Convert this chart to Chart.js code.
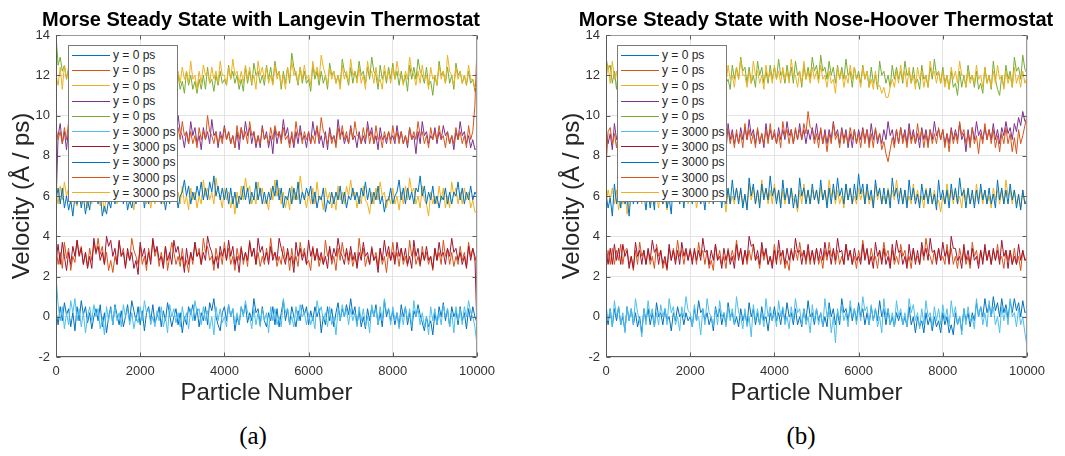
<!DOCTYPE html>
<html><head><meta charset="utf-8">
<script src="https://cdn.jsdelivr.net/npm/chart.js@4.4.1/dist/chart.umd.min.js"></script>
<style>
html,body{margin:0;padding:0;background:#fff;}
body{width:1065px;height:456px;position:relative;overflow:hidden;font-family:"Liberation Sans",Arial,sans-serif;}
canvas{position:absolute;top:0;}
.title{position:absolute;top:7px;font-family:"Liberation Sans",Arial,sans-serif;font-weight:bold;font-size:20px;line-height:24px;color:#000;white-space:nowrap;transform:translateX(-50%);}
.legend{position:absolute;background:#fff;border:1px solid #7a7a7a;box-sizing:border-box;padding-top:1.5px;}
.legend .row{height:15.3px;display:flex;align-items:center;font-size:12px;color:#262626;white-space:nowrap;}
.legend .swatch{width:38px;height:0;border-top:1px solid;margin-left:3px;margin-right:3px;}
.caption{position:absolute;top:421px;font-family:"Liberation Serif","Times New Roman",serif;font-size:25px;line-height:30px;color:#000;transform:translateX(-50%);}
</style></head>
<body>
<canvas id="cA" width="540" height="410" style="left:0px"></canvas>
<canvas id="cB" width="515" height="410" style="left:550px"></canvas>
<div class="title" style="left:261px">Morse Steady State with Langevin Thermostat</div>
<div class="title" style="left:816px">Morse Steady State with Nose-Hoover Thermostat</div>
<div class="legend" id="legA" style="left:68px;top:45px;width:110px;height:157px"></div>
<div class="legend" id="legB" style="left:617px;top:45px;width:110px;height:157px"></div>
<div class="caption" style="left:253px">(a)</div>
<div class="caption" style="left:801px">(b)</div>
<script>
// ---- data ----
const particleNumbers = [
0,50,100,150,200,250,300,350,400,450,500,550,600,650,700,750,800,850,900,950,
1000,1050,1100,1150,1200,1250,1300,1350,1400,1450,1500,1550,1600,1650,1700,1750,1800,1850,1900,1950,
2000,2050,2100,2150,2200,2250,2300,2350,2400,2450,2500,2550,2600,2650,2700,2750,2800,2850,2900,2950,
3000,3050,3100,3150,3200,3250,3300,3350,3400,3450,3500,3550,3600,3650,3700,3750,3800,3850,3900,3950,
4000,4050,4100,4150,4200,4250,4300,4350,4400,4450,4500,4550,4600,4650,4700,4750,4800,4850,4900,4950,
5000,5050,5100,5150,5200,5250,5300,5350,5400,5450,5500,5550,5600,5650,5700,5750,5800,5850,5900,5950,
6000,6050,6100,6150,6200,6250,6300,6350,6400,6450,6500,6550,6600,6650,6700,6750,6800,6850,6900,6950,
7000,7050,7100,7150,7200,7250,7300,7350,7400,7450,7500,7550,7600,7650,7700,7750,7800,7850,7900,7950,
8000,8050,8100,8150,8200,8250,8300,8350,8400,8450,8500,8550,8600,8650,8700,8750,8800,8850,8900,8950,
9000,9050,9100,9150,9200,9250,9300,9350,9400,9450,9500,9550,9600,9650,9700,9750,9800,9850,9900,9950,
10000];

const xTicks = [0,2000,4000,6000,8000,10000];
const yTicks = [-2,0,2,4,6,8,10,12,14];

const seriesLabels = ["y = 0 ps","y = 0 ps","y = 0 ps","y = 0 ps","y = 0 ps",
  "y = 3000 ps","y = 3000 ps","y = 3000 ps","y = 3000 ps","y = 3000 ps"];

// ---- Langevin (a) ----
const langA_0ps_s1 = [
0.3,-0.4,0.5,-0.2,0.7,0.1,0.4,-0.5,0.2,-0.7,0.5,-0.2,0.8,0.1,0.5,-0.3,0.2,-0.6,0.0,0.4,
-0.2,0.6,-0.5,0.2,-0.8,0.0,0.5,-0.4,0.6,0.1,-0.4,0.3,-0.5,0.0,0.6,-0.2,0.8,0.3,-0.2,0.5,
-0.4,0.3,-0.7,0.2,0.5,-0.2,0.6,-0.3,0.0,0.5,-0.5,0.3,-0.2,0.7,0.1,-0.5,0.0,0.4,-0.4,0.2,
-0.8,0.0,-0.4,0.5,0.1,0.6,-0.2,0.4,-0.5,0.2,-0.2,0.5,-0.4,0.7,0.3,0.9,0.0,-0.4,-0.7,0.2,
0.5,-0.2,0.6,0.0,0.4,-0.7,0.0,-0.4,0.5,0.1,0.6,-0.3,0.2,-0.2,0.9,0.2,0.4,-0.4,0.5,-0.2,
-0.5,0.2,-0.2,0.5,-0.4,0.4,-0.5,0.2,0.8,-0.2,0.4,-0.4,0.5,0.0,-0.5,0.3,-0.2,0.6,0.1,0.5,
-0.4,0.3,-0.2,0.5,0.0,0.4,-0.8,0.0,-0.4,0.5,-0.2,0.4,-0.5,0.2,0.7,-0.2,0.4,0.0,0.6,0.1,
0.9,0.1,0.5,-0.4,0.3,-0.5,0.0,-0.6,0.4,-0.2,0.5,0.0,0.6,-0.4,0.2,-0.5,0.8,0.0,0.4,-0.2,
0.3,-0.4,0.2,-0.5,0.6,0.0,0.5,-0.4,0.2,-0.7,0.3,0.0,0.6,0.1,-0.3,-0.7,0.0,-0.5,-0.2,-0.9,
0.2,-0.4,0.5,0.0,0.7,-0.2,0.4,-0.5,0.5,0.0,0.3,-0.4,0.5,-0.2,0.2,-0.6,0.4,-0.2,0.5,0.0,
-0.3];
const langA_0ps_s2 = [
3.5,2.6,3.2,2.4,3.7,2.9,3.4,2.3,3.0,2.7,3.8,3.1,3.5,2.6,3.2,2.5,3.4,2.8,3.7,3.1,
3.9,3.1,3.5,2.6,3.2,2.3,2.8,2.2,3.0,2.6,3.7,3.0,3.4,2.5,3.2,2.8,3.9,3.3,3.0,2.6,
3.5,2.6,3.0,2.3,3.4,2.8,3.8,3.0,3.4,2.5,3.2,2.6,3.5,2.3,3.0,3.7,3.2,2.6,3.0,2.5,
3.4,2.5,2.8,2.2,3.2,2.6,3.7,3.0,3.4,2.6,3.9,3.2,3.5,2.8,3.0,2.3,3.4,2.8,3.2,2.6,
3.7,2.8,3.4,2.6,3.0,2.3,3.4,2.8,3.5,2.6,3.2,2.5,3.8,3.0,3.4,2.6,3.2,2.5,3.0,2.6,
3.4,2.8,3.9,3.0,3.2,2.5,3.0,2.6,3.5,2.8,3.2,2.3,3.4,2.6,3.0,2.5,3.7,3.0,3.4,2.6,
2.8,2.3,3.5,2.8,3.2,2.5,3.0,2.6,3.8,3.0,3.4,2.6,3.0,2.3,3.4,2.8,3.7,3.0,3.2,2.6,
3.2,2.5,3.0,2.6,3.9,3.0,3.4,2.5,3.0,2.6,3.5,2.8,3.2,2.5,3.4,2.6,3.0,2.2,3.2,2.8,
3.7,2.8,3.2,2.5,3.4,2.6,3.0,2.5,3.8,3.0,3.4,2.6,3.0,2.5,3.5,2.8,3.2,2.6,3.0,2.3,
3.4,2.8,3.2,2.6,3.8,3.0,3.4,2.6,3.2,2.5,3.0,2.6,3.5,2.8,3.2,2.5,3.7,3.0,3.4,2.8,
3.1];
const langA_0ps_s3 = [
6.2,5.6,6.5,5.8,6.7,6.0,6.4,5.6,6.5,5.8,5.5,6.2,5.6,6.4,6.0,5.4,6.2,5.6,6.8,6.0,
6.4,5.5,6.0,5.2,6.2,5.6,6.5,6.0,6.4,5.6,6.9,6.2,6.5,5.8,6.4,5.6,6.0,5.3,6.2,5.8,
6.7,5.8,6.4,5.6,6.2,5.4,6.0,5.6,6.5,5.8,6.2,5.6,6.4,5.8,7.0,6.4,6.7,5.8,6.2,5.6,
6.5,5.6,6.0,5.3,6.4,5.8,6.2,5.4,6.0,5.6,6.8,6.0,6.4,5.8,6.2,5.6,6.9,6.2,6.0,5.4,
6.4,5.8,6.2,5.4,6.0,5.1,6.2,5.6,6.5,5.8,6.9,6.2,6.5,5.6,6.0,5.6,6.7,6.0,6.4,5.6,
5.8,5.3,6.4,5.8,6.8,6.0,6.4,5.6,6.2,5.4,6.0,5.3,6.5,5.8,6.2,5.8,7.0,6.2,6.0,5.4,
6.2,5.6,6.4,5.6,6.7,5.8,6.0,5.3,6.4,5.8,6.2,5.4,6.0,5.3,6.5,5.8,6.2,5.6,6.5,6.0,
6.8,6.0,6.2,5.4,6.0,5.6,6.5,5.8,5.6,5.1,6.2,5.6,6.4,5.8,6.7,6.0,6.2,5.4,6.0,5.6,
6.4,5.6,6.0,5.3,6.2,5.6,6.5,5.8,6.9,6.2,6.4,5.6,6.0,5.4,6.5,5.8,5.6,5.0,6.2,5.6,
6.0,5.6,6.5,5.8,6.4,5.4,6.0,5.4,6.7,6.0,6.4,5.6,6.2,5.6,6.4,5.8,6.2,5.4,5.8,5.2,
5.2];
const langA_0ps_s4 = [
5.5,9.0,9.6,8.6,9.2,8.3,9.4,8.6,9.2,8.8,9.7,8.8,9.2,8.4,9.4,8.8,9.5,8.6,9.0,8.2,
9.5,8.8,9.4,8.6,9.8,9.0,9.2,8.3,9.0,8.6,9.5,8.8,9.9,9.2,9.4,8.6,9.0,8.4,9.4,8.8,
9.2,8.6,9.7,9.0,9.4,8.2,9.0,8.4,9.5,9.0,9.2,8.6,9.0,8.3,9.2,8.1,9.4,8.8,10.0,9.2,
9.0,8.4,9.2,8.6,9.7,9.0,9.4,8.6,9.0,8.3,9.4,8.8,9.2,8.6,9.8,9.0,9.2,8.4,9.2,8.8,
9.5,8.8,9.2,8.6,9.0,8.4,9.2,8.3,9.4,8.8,9.7,9.0,9.4,8.6,9.2,8.4,9.0,8.4,9.5,8.8,
9.2,8.4,9.0,8.1,9.4,8.6,9.2,8.8,9.8,9.0,9.4,8.6,9.0,8.4,9.2,8.6,9.5,8.8,9.0,8.4,
9.2,8.6,9.7,9.0,9.4,8.6,9.0,8.4,9.2,8.3,9.4,8.8,9.0,8.6,9.8,9.0,9.2,8.6,9.0,8.6,
9.5,8.8,9.0,8.4,9.2,8.6,9.0,8.6,9.7,9.0,9.4,8.6,9.0,8.3,9.4,8.8,9.0,8.6,9.2,8.8,
9.0,8.6,9.5,8.8,9.2,8.6,9.0,8.4,9.4,8.8,9.0,8.1,9.2,8.6,9.7,9.0,9.2,8.6,9.0,8.8,
9.4,8.6,9.2,8.8,9.5,9.0,9.2,8.6,9.0,8.3,9.2,8.8,9.7,9.0,9.2,8.6,9.0,8.4,8.8,8.3,
8.4];
const langA_0ps_s5 = [
14.0,12.5,12.9,12.2,12.5,11.8,12.4,11.6,12.3,11.8,12.5,11.6,12.2,11.5,12.4,11.8,12.2,11.5,12.7,12.0,
12.4,11.5,12.0,11.3,12.5,11.8,12.9,12.2,12.4,11.6,12.4,11.6,12.0,11.2,12.2,11.6,12.6,12.0,12.2,11.5,
12.8,12.2,12.5,11.6,12.0,11.5,12.5,11.8,12.2,11.6,13.0,12.4,12.5,11.6,11.8,11.3,12.4,11.6,12.0,11.3,
11.7,11.1,12.2,11.5,12.0,11.3,11.7,11.1,11.8,11.3,12.0,11.3,12.4,11.6,11.8,11.2,12.0,11.5,12.2,11.6,
11.8,11.5,12.5,11.8,12.2,11.6,12.0,11.3,11.8,11.2,12.4,11.6,12.2,11.5,12.6,12.0,12.2,11.6,12.0,11.5,
12.5,11.8,12.4,11.6,12.7,12.0,12.2,11.3,12.2,11.6,12.4,11.6,13.1,12.4,12.0,11.5,12.4,11.6,12.2,11.6,
11.8,11.2,12.5,11.8,12.2,11.5,12.2,11.6,12.0,11.3,12.6,12.0,12.2,11.6,12.0,11.5,12.8,12.2,12.0,11.5,
12.4,11.6,12.2,11.8,12.7,12.0,12.2,11.6,12.4,11.8,12.9,12.2,12.0,11.3,12.5,11.8,12.2,11.6,12.4,11.8,
12.6,11.8,12.2,11.5,12.2,11.6,12.0,11.2,12.5,11.8,12.4,11.8,12.8,12.2,12.0,11.6,12.4,11.5,11.7,11.0,
12.0,11.5,12.7,12.0,12.2,11.6,12.4,11.6,12.0,11.3,12.6,12.0,12.2,11.6,12.0,11.5,12.2,11.6,11.8,11.2,
12.0];
const langA_3000ps_s1 = [
2.0,0.6,-0.2,0.5,-0.6,0.2,-0.4,0.8,0.2,0.9,-0.2,0.4,-0.5,0.2,-0.8,0.0,0.5,-0.2,0.6,0.0,
0.4,-0.6,0.0,-0.9,0.5,-0.2,0.4,-0.4,0.5,-0.2,0.2,-0.5,0.6,0.0,0.4,-0.4,0.2,-0.6,0.0,-0.3,
0.5,-0.2,0.8,0.2,0.4,-0.4,0.0,-0.5,0.3,-0.2,0.5,-0.5,0.0,-0.8,0.6,0.0,0.4,-0.3,0.2,-0.5,
0.5,-0.2,0.2,-0.6,0.4,-0.2,0.8,0.2,0.4,-0.4,0.5,-0.2,0.3,-0.6,0.0,-0.9,0.5,-0.2,0.4,-0.3,
0.0,-0.5,0.6,0.0,0.4,-0.4,0.2,-0.4,0.5,0.0,0.8,0.2,0.0,-0.6,0.4,-0.4,0.2,-0.5,0.4,-0.2,
0.2,-0.8,0.5,-0.2,0.4,-0.4,0.0,-0.5,0.9,0.2,0.4,-0.4,0.0,-0.5,0.5,-0.2,0.6,0.0,0.2,-0.4,
0.2,-0.4,0.0,-0.6,0.8,0.2,0.5,-0.2,0.2,-0.5,0.5,-0.4,0.0,-0.9,0.4,-0.2,0.6,0.0,0.4,-0.4,
0.4,-0.2,0.2,-0.5,0.5,-0.2,0.4,-0.5,0.0,-0.8,0.6,0.0,0.4,-0.4,0.5,-0.2,0.9,0.2,0.4,-0.4,
0.5,-0.2,0.2,-0.6,0.2,-0.4,0.5,-0.2,0.4,-0.5,0.8,0.0,0.4,-0.4,0.2,-0.5,0.0,-0.9,0.5,-0.2,
0.4,-0.4,0.2,-0.4,0.6,0.0,0.4,-0.5,0.2,-0.8,0.5,-0.2,0.4,-0.4,0.5,0.0,0.8,0.2,0.0,-0.5,
-1.4];
const langA_3000ps_s2 = [
2.8,3.6,2.6,3.7,3.0,2.3,3.2,2.6,3.5,3.0,3.8,3.0,3.4,2.6,3.2,2.4,3.0,2.4,3.9,3.2,
3.5,2.8,3.2,2.6,4.0,3.5,3.8,3.0,3.4,2.6,3.8,3.0,3.2,2.4,3.4,2.8,3.2,2.4,2.8,2.1,
3.7,3.0,3.4,2.6,3.2,2.6,3.9,3.2,3.5,2.8,3.0,2.4,3.5,2.8,3.2,2.6,3.8,3.2,3.5,2.8,
3.0,2.2,3.4,2.6,3.2,2.8,3.7,3.0,3.2,2.6,3.2,2.8,4.0,3.5,3.2,2.6,3.0,2.4,3.5,3.0,
3.4,2.8,3.8,3.0,3.5,2.6,3.0,2.2,3.4,2.8,3.2,2.8,3.7,3.0,3.4,2.6,3.9,3.2,3.5,2.8,
3.2,2.6,3.5,2.8,3.2,2.8,3.9,3.4,3.0,2.6,3.4,2.8,3.0,2.2,3.7,3.0,3.4,2.8,3.2,2.6,
3.8,3.0,3.4,2.8,3.4,2.8,3.2,2.6,3.0,2.4,3.5,2.8,3.4,3.0,3.9,3.2,3.0,2.6,3.4,2.8,
3.5,2.8,3.2,2.4,3.2,2.8,3.7,3.0,3.2,2.6,3.4,2.8,3.0,2.2,3.4,2.8,3.8,3.0,3.5,2.8,
3.2,2.6,3.7,3.0,3.4,2.8,3.4,2.6,3.0,2.4,3.8,3.0,3.4,2.6,3.2,2.8,3.5,2.8,3.0,2.4,
3.4,2.8,3.7,3.0,3.2,2.6,3.4,3.0,3.9,3.2,3.4,2.8,3.2,2.6,3.0,2.4,3.5,2.8,3.4,3.0,
-0.7];
const langA_3000ps_s3 = [
5.8,6.4,5.6,6.4,5.4,6.0,5.3,5.8,5.0,6.0,5.6,6.2,5.4,6.0,5.1,5.8,5.3,6.4,5.8,6.2,
5.6,6.2,5.0,5.5,5.1,5.8,5.4,6.2,5.6,6.2,5.8,6.5,5.6,6.2,5.3,5.8,5.4,6.0,5.6,6.2,
5.8,6.4,5.4,6.2,5.6,6.4,5.8,6.7,5.8,6.4,5.6,6.2,5.3,6.0,5.6,6.5,5.8,6.2,5.4,6.0,
6.2,6.8,6.0,6.5,5.6,6.2,5.8,6.5,6.0,6.7,5.8,6.4,5.8,6.7,6.2,7.0,6.0,6.5,5.8,6.4,
5.8,6.4,5.6,6.4,5.6,6.2,5.4,6.0,5.8,6.5,5.8,6.4,5.6,6.2,5.8,6.7,5.8,6.4,5.6,6.2,
5.6,6.2,5.8,6.5,6.0,6.8,5.8,6.4,5.4,6.0,5.8,6.4,5.6,6.4,5.8,6.7,5.6,6.2,5.8,6.4,
6.0,6.5,5.6,6.2,5.4,6.0,5.8,6.4,5.2,5.8,5.6,6.2,5.6,6.2,5.8,6.5,5.6,6.2,5.4,6.0,
5.8,6.4,5.8,6.2,5.6,6.4,6.0,6.7,5.8,6.4,5.6,6.2,5.8,6.5,5.6,6.0,5.2,5.8,5.8,6.4,
5.6,6.0,6.2,6.8,5.8,6.4,5.6,6.4,5.8,6.2,5.6,6.4,6.2,7.0,6.0,6.5,5.6,6.2,5.8,6.5,
5.6,6.0,5.4,6.0,5.8,6.4,5.6,6.2,5.6,6.2,6.0,6.7,5.8,6.4,5.6,6.2,5.8,6.5,5.8,6.2,
6.0];
const langA_3000ps_s4 = [
9.4,8.8,9.2,8.6,9.4,8.8,9.7,9.0,9.2,8.6,9.4,8.6,9.0,8.4,9.5,9.0,9.4,8.6,9.2,8.6,
9.0,8.6,9.5,8.8,9.2,8.6,9.4,8.8,9.9,9.2,9.0,8.6,9.4,8.6,9.0,8.4,9.2,8.8,9.5,9.0,
9.2,8.6,9.4,8.8,9.7,9.0,9.2,8.6,9.0,8.6,9.4,8.8,9.2,8.4,9.5,8.8,9.2,8.8,9.4,8.8,
9.7,9.0,9.2,8.6,9.2,8.6,9.0,8.4,9.4,8.8,9.2,8.8,10.0,9.2,9.0,8.6,9.2,8.6,9.0,8.6,
9.4,8.8,9.2,8.6,9.0,8.4,9.5,8.8,9.4,8.8,9.2,8.6,9.7,9.0,9.2,8.6,9.0,8.6,9.4,8.8,
9.0,8.6,9.4,8.8,9.5,9.0,9.2,8.6,9.4,8.8,9.0,8.4,9.2,8.6,9.7,9.0,9.2,8.6,9.2,8.8,
9.2,8.6,9.0,8.6,9.5,8.8,9.9,9.2,9.0,8.6,9.2,8.6,9.0,8.4,9.4,8.8,9.5,8.8,9.2,8.6,
9.4,8.8,9.7,9.0,9.0,8.6,9.4,8.8,9.4,8.6,9.2,8.6,9.5,8.8,9.0,8.4,9.2,8.8,9.2,8.6,
9.5,8.8,9.2,8.6,9.2,8.6,9.0,8.6,9.4,8.8,9.2,8.8,9.7,9.0,9.2,8.6,9.0,8.4,9.4,8.8,
9.2,8.8,9.5,8.8,9.0,8.4,9.2,8.6,9.0,8.6,9.4,8.8,9.2,8.6,9.0,8.4,9.5,8.8,9.2,10.5,
13.5];
const langA_3000ps_s5 = [
12.0,11.5,12.4,11.3,12.5,11.8,12.2,11.6,12.4,11.6,12.2,11.5,12.4,11.8,12.7,12.0,12.2,11.5,12.4,11.8,
12.2,11.6,12.8,12.0,12.2,11.5,12.4,11.6,12.0,11.3,12.5,11.8,12.4,11.8,12.9,12.2,12.4,11.6,12.6,12.0,
13.0,12.4,12.7,11.8,12.2,11.6,12.7,12.0,12.2,11.6,12.5,11.8,12.2,11.5,12.4,11.8,12.8,12.0,12.2,11.6,
12.4,11.8,12.2,11.6,12.7,11.8,12.0,11.3,12.2,11.6,12.5,12.0,12.2,11.6,12.4,11.8,12.2,11.6,12.7,12.0,
12.0,11.5,12.4,11.8,12.8,12.0,12.2,11.6,12.2,11.6,12.5,11.8,12.4,11.6,12.0,11.3,12.7,12.0,12.4,11.8,
12.4,11.6,12.0,11.5,12.5,11.8,12.2,11.5,12.0,11.3,12.4,11.8,12.7,12.0,12.2,11.6,12.4,11.8,12.5,11.8,
12.0,11.5,12.7,12.0,12.4,11.8,13.0,12.4,12.0,11.5,12.4,11.8,12.2,11.6,12.0,11.3,12.5,11.8,12.2,11.6,
12.8,12.0,12.2,11.6,12.4,11.6,12.0,11.3,12.7,12.0,12.2,11.6,12.4,11.6,11.8,11.3,12.5,11.8,12.2,11.6,
12.4,11.8,12.7,12.0,12.0,11.5,12.2,11.8,12.9,12.2,12.0,11.5,12.2,11.6,12.5,11.8,12.0,11.3,12.4,11.8,
12.0,11.5,12.5,11.8,12.2,11.6,13.0,12.2,12.0,11.5,12.4,11.8,12.2,11.6,12.0,11.5,12.5,11.8,11.8,11.4,
11.4];

// ---- Nose-Hoover (b) ----
const noseB_0ps_s1 = [
0.2,-0.4,0.4,-0.5,0.4,-0.2,0.5,-0.4,0.0,-0.7,0.5,-0.2,0.4,-0.4,0.2,-0.5,0.0,-0.8,0.4,-0.2,
0.4,-0.4,0.2,-0.5,0.7,0.0,0.2,-0.4,0.4,-0.2,0.0,-0.7,0.2,-0.2,0.5,0.0,0.2,-0.4,0.2,-0.2,
0.0,-0.5,0.4,-0.2,0.8,0.2,0.4,-0.2,0.2,-0.4,0.0,-0.7,0.5,0.0,0.4,-0.4,0.2,-0.4,0.7,0.0,
0.2,-0.4,0.0,-0.5,0.4,-0.2,0.2,-0.4,0.7,0.0,0.4,-0.4,0.2,-0.4,0.5,-0.2,0.0,-0.7,0.2,-0.2,
0.5,-0.2,0.2,-0.4,0.4,-0.2,0.7,0.0,0.2,-0.4,0.4,-0.4,0.0,-0.5,0.4,-0.2,0.8,0.0,0.2,-0.4,
0.4,-0.2,0.2,-0.5,0.0,-0.5,0.7,0.0,0.4,-0.4,0.2,-0.4,0.9,0.2,0.4,-0.2,0.5,-0.2,0.4,-0.2,
0.7,0.0,0.4,-0.4,0.2,-0.4,0.5,-0.2,0.4,-0.2,0.8,0.0,0.4,-0.4,0.4,-0.4,0.0,-0.5,0.2,-0.2,
0.2,-0.4,0.0,-0.5,0.5,-0.4,0.0,-0.8,0.0,-0.5,-0.2,-0.8,0.2,-0.4,0.0,-0.7,0.0,-0.5,-0.2,-0.8,
0.2,-0.4,0.0,-0.8,-0.4,-0.9,0.2,-0.4,0.0,-0.7,0.4,-0.2,0.2,-0.5,0.2,-0.2,0.7,0.0,0.5,0.0,
0.9,0.2,0.6,0.0,1.0,0.3,0.7,0.0,0.9,0.2,0.6,-0.1,0.8,0.2,0.9,0.3,0.7,0.0,0.8,0.2,
0.3];
const noseB_0ps_s2 = [
2.5,3.3,2.6,3.4,2.6,3.3,2.8,3.6,2.6,3.3,3.4,2.6,3.0,2.3,3.3,2.6,3.7,3.0,3.3,2.6,
3.3,2.6,3.0,2.4,3.6,3.0,3.3,2.4,2.8,2.3,3.4,2.8,3.4,2.8,3.8,3.0,3.3,2.6,3.3,2.8,
3.4,2.8,3.3,2.6,3.7,3.0,3.3,2.6,3.3,2.4,2.8,2.3,3.6,2.8,3.3,2.6,3.0,2.4,3.4,2.8,
3.3,2.8,3.8,3.0,3.3,2.6,3.3,2.6,3.3,2.8,3.6,2.8,3.0,2.4,3.4,2.8,3.3,2.6,3.0,2.6,
3.6,2.8,3.3,2.6,3.3,2.4,2.8,2.3,3.4,2.8,3.3,2.8,3.7,3.0,3.3,2.6,3.3,2.6,3.3,2.8,
3.4,2.6,3.0,2.4,3.3,2.8,3.7,3.0,3.3,2.6,3.3,2.6,3.0,2.6,3.6,3.0,3.3,2.6,3.0,2.4,
3.3,2.8,3.8,3.0,3.3,2.6,3.4,2.8,3.0,2.4,3.3,2.8,3.7,3.0,3.3,2.6,3.3,2.6,3.0,2.6,
3.6,3.0,3.3,2.6,3.0,2.4,3.4,2.8,3.0,2.6,3.4,2.8,3.9,3.2,3.0,2.6,3.3,2.8,3.4,2.8,
3.0,2.6,3.6,2.8,3.4,2.6,3.0,2.4,3.4,2.8,3.3,2.6,3.0,2.4,3.7,3.0,3.3,2.6,3.3,2.8,
3.4,2.8,3.3,2.6,3.3,2.8,3.6,2.8,3.0,2.4,3.3,2.8,3.3,2.6,3.4,2.6,3.0,2.3,3.3,2.8,
3.0];
const noseB_0ps_s3 = [
5.6,6.3,5.8,6.4,5.6,6.3,5.3,6.0,5.6,6.3,5.1,5.8,6.6,6.0,6.3,5.6,6.3,5.6,6.8,6.0,
6.3,5.6,6.4,5.6,6.0,5.4,6.3,5.6,6.0,5.3,6.6,5.8,6.4,5.8,6.3,5.6,6.9,6.0,6.3,5.6,
6.4,5.8,6.3,5.4,6.0,5.6,6.8,6.0,6.3,5.6,6.3,5.6,6.3,5.8,6.6,5.8,6.0,5.2,6.3,5.6,
6.0,5.6,6.4,5.8,6.3,5.6,6.0,5.4,6.6,5.8,6.4,5.6,6.3,5.6,6.8,6.0,6.3,5.6,6.3,5.6,
6.6,5.8,6.3,5.6,6.3,5.6,6.3,5.6,6.4,5.8,5.8,5.2,6.3,5.6,6.6,5.8,6.3,5.6,6.3,5.8,
6.3,5.6,6.4,5.8,6.3,5.6,6.8,6.0,6.3,5.6,6.3,5.6,6.0,5.4,6.6,5.8,6.3,5.6,6.0,5.6,
6.4,5.8,6.3,5.6,6.3,5.6,6.0,5.4,6.6,5.8,6.3,5.6,6.0,5.6,6.4,5.8,6.3,5.8,6.8,6.0,
6.3,5.6,6.3,5.6,6.0,5.6,6.6,5.8,6.3,5.6,6.0,5.4,6.4,5.8,6.3,5.6,6.3,5.6,5.8,5.2,
6.0,5.6,6.6,5.8,6.3,5.6,6.3,5.6,6.0,5.4,6.4,5.8,6.3,5.6,6.0,5.6,6.6,5.8,6.3,5.6,
6.3,5.6,6.0,5.4,6.4,5.8,6.3,5.6,6.3,5.6,6.8,6.0,6.3,5.6,6.3,5.6,6.0,5.4,6.3,5.6,
5.9];
const noseB_0ps_s4 = [
9.3,8.6,9.1,8.3,9.6,8.8,9.3,8.6,9.7,9.0,9.3,8.6,9.4,8.6,9.1,8.4,9.3,8.8,9.6,8.8,
9.1,8.6,9.4,8.8,9.8,9.0,9.3,8.6,9.4,8.6,9.1,8.4,9.7,9.0,9.3,8.6,9.1,8.6,9.4,8.8,
9.3,8.8,9.6,8.8,9.1,8.4,9.3,8.8,9.7,9.0,9.3,8.6,9.4,8.8,9.3,8.4,9.1,8.2,9.6,8.8,
9.3,8.6,9.1,8.6,9.4,8.8,9.4,8.8,9.8,9.0,9.3,8.6,9.3,8.6,9.1,8.4,9.6,8.8,9.3,8.8,
9.1,8.6,9.4,8.8,9.3,8.8,9.7,9.0,9.3,8.6,9.3,8.8,9.6,8.8,9.3,8.6,9.3,8.8,9.4,8.8,
9.6,8.8,9.3,8.6,9.3,8.6,9.3,8.8,9.7,9.0,9.3,8.6,9.4,8.8,9.3,8.4,9.1,8.4,9.3,8.6,
9.3,8.8,9.4,8.8,9.3,8.6,9.6,8.8,9.3,8.6,9.1,8.6,9.3,8.8,9.7,9.0,9.3,8.6,9.3,8.6,
9.4,8.8,9.3,8.6,9.6,8.8,9.3,8.6,9.1,8.4,9.4,8.8,9.3,8.6,9.3,8.8,9.7,9.0,9.3,8.8,
9.3,8.6,9.1,8.6,9.4,8.8,9.3,8.8,9.6,8.8,9.1,8.2,9.3,8.6,9.4,8.8,9.7,9.0,9.3,8.8,
9.4,8.8,9.3,8.8,9.6,8.8,9.3,8.6,9.4,9.0,9.7,9.1,9.4,8.8,9.6,9.2,9.9,9.5,10.2,9.7,
9.8];
const noseB_0ps_s5 = [
12.9,12.3,12.5,11.6,12.2,11.3,12.5,11.8,12.4,11.3,12.4,11.6,12.2,11.6,12.7,11.8,12.0,11.3,12.2,11.6,
12.5,11.8,12.2,11.4,12.4,11.4,11.8,11.1,12.4,11.8,12.9,12.2,12.4,11.6,12.2,11.4,12.0,11.3,12.5,11.8,
12.2,11.6,12.0,11.3,12.7,12.0,12.4,11.6,12.2,11.4,12.4,11.8,12.8,12.0,12.2,11.6,12.4,11.6,11.8,11.3,
12.5,11.8,12.4,11.8,12.9,12.2,12.4,11.6,12.4,11.6,12.0,11.4,12.7,12.0,12.4,11.6,12.2,11.6,12.5,11.8,
12.4,11.8,12.8,12.0,12.2,11.6,12.5,11.8,12.4,11.6,12.7,12.0,12.2,11.4,12.5,11.8,12.4,11.8,12.9,12.2,
12.5,11.8,13.0,12.2,12.4,11.8,12.7,12.0,12.4,11.6,12.5,11.8,12.4,11.8,12.8,12.0,12.2,11.4,12.4,11.8,
12.2,11.6,12.5,11.8,12.2,11.4,12.4,11.6,12.0,11.3,12.7,12.0,12.2,11.6,12.0,11.4,12.5,11.8,12.4,11.8,
12.2,11.6,12.7,12.0,12.2,11.6,12.4,11.6,11.8,11.3,12.5,11.8,12.0,11.4,12.4,11.8,12.8,12.0,12.2,11.6,
12.4,11.6,12.0,11.3,12.2,11.4,11.6,11.0,12.2,11.4,12.0,11.4,12.5,11.8,12.0,11.4,12.2,11.3,11.6,11.1,
12.4,11.6,12.0,11.3,12.7,11.8,11.3,11.0,12.0,11.4,12.5,11.8,12.2,11.4,12.9,12.2,12.4,11.8,13.0,12.3,
12.1];
const noseB_3000ps_s1 = [
0.6,-0.2,0.4,-0.5,0.8,0.0,0.5,-0.4,0.2,-0.8,0.5,-0.2,0.4,-0.4,0.9,0.2,-0.2,-1.0,0.4,-0.4,
0.8,0.0,0.4,-0.5,0.2,-0.4,0.6,0.0,0.4,-0.4,0.9,0.2,0.5,-0.4,0.0,-0.7,0.5,0.0,1.0,0.3,
0.2,-0.5,0.6,-0.2,0.0,-0.9,0.4,-0.4,0.9,0.2,0.0,-0.5,0.4,-0.4,0.8,0.0,0.2,-0.5,0.5,-0.2,
0.4,-0.4,1.0,0.2,0.0,-0.6,0.4,-0.5,0.0,-1.0,0.6,-0.2,0.4,-0.4,0.2,-0.5,0.9,0.0,0.5,-0.2,
0.2,-0.5,0.8,0.0,0.5,-0.4,0.0,-0.6,0.5,-0.2,0.9,0.2,0.4,-0.4,0.4,-0.4,0.0,-0.8,0.6,-0.2,
0.4,-0.4,0.2,-0.5,0.9,0.0,0.4,-0.8,0.0,-1.3,0.4,-0.2,0.6,-0.2,0.2,-0.5,0.8,0.0,0.4,-0.4,
0.5,-0.2,1.0,0.3,0.5,-0.4,0.6,-0.2,0.4,-0.5,0.0,-0.8,0.9,0.0,0.4,-0.4,0.2,-0.5,0.8,0.0,
0.4,-0.4,0.2,-0.5,0.9,0.2,0.6,-0.2,0.2,-0.6,0.4,-0.4,0.8,0.0,0.2,-0.5,0.5,-0.2,0.4,-0.4,
0.6,-0.2,0.4,-0.5,0.8,0.0,0.5,-0.4,0.0,-0.9,0.4,-0.4,0.5,-0.2,0.0,-0.6,0.9,0.0,0.5,-0.4,
0.2,-0.5,0.8,0.0,0.5,-0.4,0.0,-0.8,0.5,-0.2,0.4,-0.4,0.9,0.0,0.2,-0.5,0.4,-0.4,0.0,-0.8,
-1.5];
const noseB_3000ps_s2 = [
3.3,2.6,3.4,2.6,3.6,2.8,3.4,2.6,3.6,3.0,3.3,2.4,3.0,2.4,3.7,3.0,3.3,2.6,3.3,2.6,
3.4,2.8,3.8,3.2,3.4,2.6,3.3,2.6,3.0,2.4,3.6,2.8,3.3,2.6,3.3,2.6,3.7,3.0,3.4,2.8,
3.3,2.6,3.4,2.8,3.3,2.8,3.9,3.2,3.3,2.6,3.3,2.8,3.6,2.8,3.0,2.4,3.4,2.8,3.3,2.6,
3.0,2.4,3.6,2.8,3.4,2.6,3.3,2.8,4.0,3.5,3.6,2.8,3.3,2.6,3.7,3.0,3.4,2.6,3.0,2.4,
3.3,2.6,3.8,3.0,3.3,2.6,3.4,2.8,3.3,2.8,3.9,3.2,3.3,2.6,3.3,2.8,3.6,2.8,3.3,2.6,
3.4,2.8,3.4,2.8,3.7,3.0,3.3,2.6,3.4,2.8,3.9,3.2,3.3,2.6,3.6,2.8,3.3,2.6,3.4,2.8,
3.0,2.6,3.6,2.8,3.4,2.6,3.0,2.4,3.7,3.0,3.3,2.6,3.4,2.6,3.0,2.4,3.6,2.8,3.8,3.2,
3.3,2.6,3.0,2.4,3.6,2.8,3.4,2.6,3.3,2.6,3.7,3.0,3.4,2.8,3.9,3.2,3.3,2.6,3.4,2.8,
3.7,3.0,3.3,2.6,4.0,3.4,3.4,2.8,3.0,2.4,3.6,2.8,3.3,2.6,3.4,2.8,3.0,2.4,3.3,2.6,
3.6,2.8,3.3,2.6,3.4,2.8,3.3,2.6,3.8,3.0,3.3,2.4,3.3,2.6,3.0,2.6,3.6,2.8,3.3,2.8,
2.9];
const noseB_3000ps_s3 = [
6.1,5.4,5.9,5.0,6.6,5.6,6.3,5.4,6.4,5.6,5.9,5.0,6.4,5.6,6.3,5.6,6.9,5.8,6.1,5.3,
6.3,5.4,6.1,5.3,7.0,6.0,6.4,5.6,6.4,5.4,5.9,5.1,6.8,5.8,6.4,5.6,6.3,5.4,6.6,5.8,
6.4,5.6,6.9,6.0,6.6,5.6,6.1,5.3,6.6,5.8,6.4,5.6,7.0,6.0,6.3,5.4,6.4,5.6,6.4,5.6,
6.8,5.8,6.4,5.6,6.4,5.4,6.1,5.3,6.9,6.0,6.6,5.6,6.3,5.4,6.6,5.8,6.4,5.8,7.0,6.0,
6.4,5.6,6.3,5.4,6.8,5.8,6.4,5.6,6.4,5.4,6.1,5.4,6.9,6.0,6.4,5.6,6.3,5.6,6.6,5.8,
6.3,5.6,6.8,5.8,6.3,5.4,6.4,5.6,6.6,5.8,6.9,6.0,6.4,5.6,6.6,5.8,6.4,5.6,6.6,5.8,
7.1,6.1,6.6,5.6,6.6,5.8,6.3,5.4,6.8,6.0,6.4,5.6,6.4,5.6,6.3,5.4,6.9,6.0,6.4,5.6,
6.4,5.6,6.3,5.4,6.8,5.8,6.4,5.6,6.1,5.4,6.6,5.8,6.3,5.6,6.4,5.6,6.1,5.3,6.8,5.8,
6.3,5.6,6.3,5.4,6.6,5.8,6.4,5.6,6.9,6.0,6.3,5.4,6.4,5.6,6.3,5.4,6.3,5.6,6.6,5.8,
6.3,5.6,6.4,5.6,6.1,5.4,6.8,5.8,6.4,5.6,6.3,5.6,6.6,5.8,6.3,5.4,6.1,5.3,6.3,5.6,
5.8];
const noseB_3000ps_s4 = [
7.4,9.2,9.4,8.6,9.1,8.4,9.3,8.6,9.1,8.4,9.6,8.8,9.3,8.6,9.0,8.3,9.4,8.6,9.1,8.6,
9.3,8.6,9.1,8.4,9.6,8.8,9.1,8.4,9.3,8.6,9.1,8.2,9.4,8.8,9.7,9.0,9.1,8.4,9.3,8.6,
9.1,8.6,9.4,8.6,9.0,8.2,9.1,8.4,9.6,8.8,9.1,8.4,9.3,8.6,9.1,8.6,9.7,9.0,9.3,8.6,
9.1,8.4,9.3,8.6,9.1,8.4,9.6,8.8,9.3,8.6,9.1,8.4,9.4,8.6,9.1,8.6,9.3,8.6,9.6,8.8,
9.3,8.6,9.1,8.4,9.7,9.0,9.3,8.6,9.3,8.6,9.4,8.8,9.3,8.8,9.6,9.1,10.2,9.4,9.3,8.6,
9.1,8.4,9.4,8.6,9.1,8.2,9.1,8.6,9.6,8.8,9.1,8.4,9.3,8.6,9.1,8.6,9.4,8.8,9.3,8.6,
9.1,8.4,9.3,8.6,9.3,8.4,9.1,8.4,9.4,8.8,9.1,8.3,8.7,8.1,7.7,8.3,8.9,8.4,9.3,8.6,
9.4,8.6,9.1,8.4,9.3,8.6,9.1,8.6,9.6,8.8,9.3,8.4,9.1,8.4,9.3,8.6,9.1,8.6,9.4,8.8,
9.3,8.4,9.1,8.2,9.3,8.6,9.1,8.6,9.7,9.0,9.3,8.6,9.1,8.4,9.4,8.6,9.0,8.1,9.1,8.6,
9.6,8.8,9.3,8.6,9.3,8.4,9.0,8.2,9.1,8.6,9.4,8.6,9.1,8.2,8.9,8.1,9.3,8.6,9.0,9.5,
10.0];
const noseB_3000ps_s5 = [
11.8,12.5,11.6,12.7,11.8,12.2,11.3,12.0,11.6,12.4,11.8,12.5,11.6,12.2,11.1,11.8,12.4,11.6,12.2,11.6,
12.4,11.6,12.0,11.4,12.2,11.6,12.7,11.8,12.2,11.6,12.2,11.4,12.0,11.3,12.5,11.8,12.2,11.6,12.2,11.6,
12.7,12.0,12.4,11.8,12.5,11.8,12.2,11.6,12.9,12.2,12.4,11.6,12.0,11.4,13.0,12.4,12.2,11.6,12.5,11.8,
12.0,11.4,12.4,11.8,12.8,12.0,12.0,11.4,12.2,11.6,12.7,12.0,12.2,11.6,12.0,11.3,12.5,11.8,12.2,11.6,
12.5,11.8,12.2,11.6,12.4,11.8,12.2,11.6,12.8,12.0,12.0,11.4,12.2,11.6,12.7,11.8,12.2,11.6,12.4,11.8,
12.2,11.6,12.5,11.8,12.0,11.4,12.2,11.6,11.8,11.1,12.4,11.8,12.2,11.4,12.0,11.6,12.5,11.8,12.4,11.8,
12.0,11.4,12.4,11.8,12.2,11.4,11.8,11.3,12.2,11.4,11.5,11.1,11.4,10.9,10.9,11.4,11.8,11.4,12.2,11.6,
12.5,11.8,12.2,11.4,12.4,11.6,12.0,11.3,12.4,11.8,12.2,11.4,12.0,11.4,12.7,12.0,12.2,11.6,12.2,11.6,
12.2,11.4,12.0,11.3,12.4,11.8,12.2,11.6,12.7,12.0,12.0,11.4,12.2,11.6,12.0,11.6,12.5,11.8,12.0,11.4,
12.4,11.6,12.0,11.4,12.2,11.6,12.5,11.8,12.0,11.3,12.2,11.6,12.0,11.4,12.4,11.6,12.0,11.4,12.2,11.6,
11.9];

const panelA_series = [langA_0ps_s1, langA_0ps_s2, langA_0ps_s3, langA_0ps_s4, langA_0ps_s5,
  langA_3000ps_s1, langA_3000ps_s2, langA_3000ps_s3, langA_3000ps_s4, langA_3000ps_s5];
const panelB_series = [noseB_0ps_s1, noseB_0ps_s2, noseB_0ps_s3, noseB_0ps_s4, noseB_0ps_s5,
  noseB_3000ps_s1, noseB_3000ps_s2, noseB_3000ps_s3, noseB_3000ps_s4, noseB_3000ps_s5];

// ---- styles ----
const seriesColors = ["#0072BD","#D95319","#EDB120","#7E2F8E","#77AC30",
  "#4DBEEE","#A2142F","#0072BD","#D95319","#EDB120"];
const FONT = "'Liberation Sans', Arial, sans-serif";

const framePlugin = {
  id: 'frame',
  afterDatasetsDraw(chart) {
    const {ctx, chartArea: a, scales} = chart;
    ctx.save();
    ctx.lineWidth = 1;
    const L = Math.round(a.left) + 0.5, R = Math.round(a.right) - 0.5;
    const T = Math.round(a.top) + 0.5, B = Math.round(a.bottom) - 0.5;
    ctx.strokeStyle = '#9a9a9a';
    ctx.beginPath();
    ctx.moveTo(L, T); ctx.lineTo(R, T); ctx.lineTo(R, B);
    ctx.stroke();
    ctx.strokeStyle = '#5a5a5a';
    ctx.beginPath();
    ctx.moveTo(L, T); ctx.lineTo(L, B); ctx.lineTo(R, B);
    ctx.stroke();
    ctx.beginPath();
    scales.x.ticks.forEach(t => {
      const px = Math.round(scales.x.getPixelForValue(t.value)) + 0.5;
      ctx.moveTo(px, B); ctx.lineTo(px, B - 4);
      ctx.moveTo(px, T); ctx.lineTo(px, T + 4);
    });
    scales.y.ticks.forEach(t => {
      const py = Math.round(scales.y.getPixelForValue(t.value)) + 0.5;
      ctx.moveTo(L, py); ctx.lineTo(L + 4, py);
      ctx.moveTo(R, py); ctx.lineTo(R - 4, py);
    });
    ctx.stroke();
    ctx.restore();
  }
};

function makeChart(id, series, padRight) {
  return new Chart(document.getElementById(id), {
    type: 'line',
    data: {
      datasets: series.map((vals, i) => ({
        label: seriesLabels[i],
        data: vals.map((v, j) => ({x: particleNumbers[j], y: v})),
        borderColor: seriesColors[i],
        backgroundColor: seriesColors[i],
        borderWidth: 1,
        pointRadius: 0,
        tension: 0,
        fill: false,
        order: 10 - i
      }))
    },
    options: {
      responsive: false,
      animation: false,
      events: [],
      layout: {padding: {left: 0, right: padRight, top: 35, bottom: 0}},
      plugins: {
        legend: {display: false},
        tooltip: {enabled: false},
        title: {display: false}
      },
      scales: {
        x: {
          type: 'linear', min: 0, max: 10000,
          afterFit(s) { s.height = 53; },
          afterBuildTicks(s) { s.ticks = xTicks.map(v => ({value: v})); },
          ticks: {color: '#333', font: {family: FONT, size: 13}, padding: 7, maxRotation: 0, autoSkip: false,
                  callback: v => String(v)},
          grid: {color: '#e4e4e4', drawTicks: false},
          border: {display: false},
          title: {display: true, text: 'Particle Number', color: '#262626',
                  font: {family: FONT, size: 24, lineHeight: 1.2}, padding: {top: 0, bottom: 2}}
        },
        y: {
          min: -2, max: 14,
          afterFit(s) { s.width = 56; },
          afterBuildTicks(s) { s.ticks = yTicks.map(v => ({value: v})); },
          ticks: {color: '#333', font: {family: FONT, size: 13}, padding: 6, autoSkip: false,
                  callback: v => String(v)},
          grid: {color: '#e4e4e4', drawTicks: false},
          border: {display: false},
          title: {display: true, text: 'Velocity (Å / ps)', color: '#262626',
                  font: {family: FONT, size: 24, lineHeight: 1.2}, padding: {top: 8, bottom: 0}}
        }
      }
    },
    plugins: [framePlugin]
  });
}

function makeLegend(id) {
  const box = document.getElementById(id);
  seriesLabels.forEach((lab, i) => {
    const row = document.createElement('div');
    row.className = 'row';
    const sw = document.createElement('span');
    sw.className = 'swatch';
    sw.style.borderTopColor = seriesColors[i];
    const tx = document.createElement('span');
    tx.textContent = lab;
    row.appendChild(sw); row.appendChild(tx);
    box.appendChild(row);
  });
}

makeChart('cA', panelA_series, 63);
makeChart('cB', panelB_series, 38);
makeLegend('legA');
makeLegend('legB');
</script>
</body></html>
